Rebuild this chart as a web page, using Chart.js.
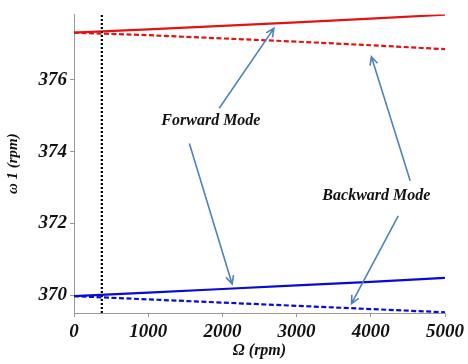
<!DOCTYPE html>
<html>
<head>
<meta charset="utf-8">
<script src="https://cdn.jsdelivr.net/npm/chart.js@4"></script>
<style>
  body { margin: 0; background: #fff; }
  #wrap { width: 468px; height: 364px; }
</style>
</head>
<body>
<div id="wrap"><canvas id="omega-chart"></canvas></div>
<script>
// rotor speed (rpm)
const speeds = [0, 1000, 2000, 3000, 4000, 5000];
// first mode frequency (rpm)
const upperForward = [377.32, 377.41, 377.51, 377.61, 377.71, 377.82];
const upperBackward = [377.32, 377.25, 377.16, 377.07, 376.97, 376.86];
const lowerForward = [369.97, 370.07, 370.17, 370.27, 370.37, 370.48];
const lowerBackward = [369.97, 369.88, 369.79, 369.70, 369.61, 369.52];
// operating speed marker
const markerSpeed = 375;

const xTicks = [0, 1000, 2000, 3000, 4000, 5000];
const yTicks = [370, 372, 374, 376];
const yMin = 369.5, yMax = 377.83;

// labels and arrows, in data units
const labels = [
    { text: 'Forward Mode', x: 1845, y: 374.86 },
    { text: 'Backward Mode', x: 4075, y: 372.78 }
];
const arrows = [
    { from: [1957, 375.21], to: [2694, 377.44] },
    { from: [1555, 374.23], to: [2131, 370.31] },
    { from: [4531, 373.19], to: [4008, 376.65] },
    { from: [4370, 372.21], to: [3740, 369.76] }
];

function pts(ys) {
    return speeds.map(function (s, i) { return { x: s, y: ys[i] }; });
}

const RED = 'rgb(225,20,20)';
const BLUE = 'rgb(10,10,215)';

const annotate = {
    id: 'annotate',
    afterDatasetsDraw(chart) {
        const ctx = chart.ctx;
        const xs = chart.scales.x, ys = chart.scales.y;
        ctx.save();
        ctx.strokeStyle = 'rgb(79,129,189)';
        ctx.lineWidth = 1.6;
        arrows.forEach(function (a) {
            const x1 = xs.getPixelForValue(a.from[0]), y1 = ys.getPixelForValue(a.from[1]);
            const x2 = xs.getPixelForValue(a.to[0]), y2 = ys.getPixelForValue(a.to[1]);
            const ang = Math.atan2(y2 - y1, x2 - x1);
            ctx.beginPath();
            ctx.moveTo(x1, y1);
            ctx.lineTo(x2, y2);
            ctx.moveTo(x2 - 9 * Math.cos(ang - 0.45), y2 - 9 * Math.sin(ang - 0.45));
            ctx.lineTo(x2, y2);
            ctx.lineTo(x2 - 9 * Math.cos(ang + 0.45), y2 - 9 * Math.sin(ang + 0.45));
            ctx.stroke();
        });
        ctx.fillStyle = '#111';
        ctx.font = 'italic bold 16px "Liberation Serif"';
        ctx.textAlign = 'center';
        ctx.textBaseline = 'middle';
        labels.forEach(function (l) {
            ctx.fillText(l.text, xs.getPixelForValue(l.x), ys.getPixelForValue(l.y));
        });
        ctx.restore();
    }
};

const ctx = document.getElementById('omega-chart');
const omegaChart = new Chart(ctx, {
    type: 'line',
    data: {
        datasets: [{
            data: [{ x: markerSpeed, y: yMin }, { x: markerSpeed, y: yMax }],
            borderColor: '#000',
            borderWidth: 2.2,
            borderDash: [2, 2],
            pointRadius: 0
        }, {
            data: pts(upperForward),
            borderColor: RED,
            borderWidth: 2.2,
            pointRadius: 0
        }, {
            data: pts(upperBackward),
            borderColor: RED,
            borderWidth: 2.2,
            borderDash: [5, 2.5],
            pointRadius: 0
        }, {
            data: pts(lowerForward),
            borderColor: BLUE,
            borderWidth: 2.2,
            pointRadius: 0
        }, {
            data: pts(lowerBackward),
            borderColor: BLUE,
            borderWidth: 2.2,
            borderDash: [5, 2.5],
            pointRadius: 0
        }]
    },
    options: {
        responsive: true,
        maintainAspectRatio: false,
        animation: false,
        layout: { padding: { top: 7, right: 21, left: 0, bottom: 0 } },
        plugins: {
            legend: { display: false },
            tooltip: { enabled: false }
        },
        scales: {
            x: {
                type: 'linear',
                min: 0,
                max: 5000,
                afterBuildTicks: function (s) { s.ticks = xTicks.map(function (v) { return { value: v }; }); },
                afterFit: function (s) { s.height = 51; },
                grid: { drawOnChartArea: false, tickLength: 4, color: '#999' },
                border: { color: '#999', width: 1 },
                ticks: {
                    color: '#111',
                    padding: 4,
                    maxRotation: 0,
                    font: { family: 'Liberation Serif', size: 19, style: 'italic', weight: 'bold' },
                    callback: function (v) { return String(v); }
                },
                title: {
                    display: true,
                    text: 'Ω (rpm)',
                    color: '#111',
                    padding: { top: 0 },
                    font: { family: 'Liberation Serif', size: 16, style: 'italic', weight: 'bold' }
                }
            },
            y: {
                min: yMin,
                max: yMax,
                afterBuildTicks: function (s) { s.ticks = yTicks.map(function (v) { return { value: v }; }); },
                afterFit: function (s) { s.width = 74; },
                grid: { drawOnChartArea: false, tickLength: 4, color: '#999' },
                border: { color: '#999', width: 1 },
                ticks: {
                    color: '#111',
                    padding: 3,
                    font: { family: 'Liberation Serif', size: 19, style: 'italic', weight: 'bold' }
                },
                title: {
                    display: true,
                    text: 'ω 1 (rpm)',
                    color: '#111',
                    padding: { bottom: 8 },
                    font: { family: 'Liberation Serif', size: 15, style: 'italic', weight: 'bold' }
                }
            }
        }
    },
    plugins: [annotate]
});
</script>
</body>
</html>
